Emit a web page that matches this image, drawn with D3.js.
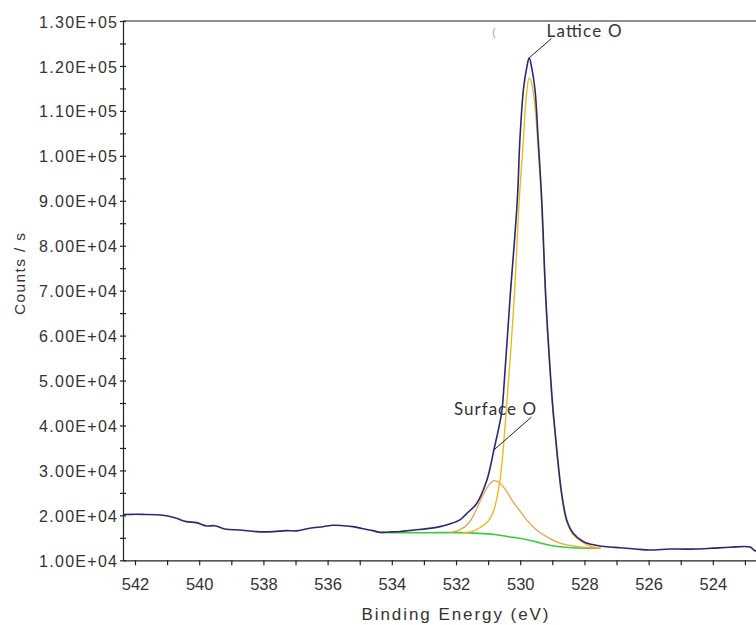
<!DOCTYPE html>
<html>
<head>
<meta charset="utf-8">
<script src="https://cdn.jsdelivr.net/npm/d3@7"></script>
<style>
  html, body { margin: 0; padding: 0; background: #fff; }
  svg { display: block; font-family: "Liberation Sans", Arial, sans-serif; }
</style>
</head>
<body>
<svg id="chart" width="756" height="625"></svg>
<script>
// O 1s XPS region: measured spectrum, two fitted components and the background.
// Each series is [binding energy (eV), counts per second].
const spectrum = [
  [542.37, 20200], [542.05, 20230], [541.70, 20200], [541.34, 20150], [540.97, 19870],
  [540.71, 19350], [540.40, 18600], [540.09, 18380], [539.78, 17640], [539.52, 17700],
  [539.16, 16900], [538.74, 16750], [538.22, 16370], [537.70, 16370], [537.29, 16600],
  [536.98, 16550], [536.56, 17130], [536.14, 17480], [535.83, 17790], [535.52, 17700],
  [535.21, 17500], [534.90, 17040], [534.59, 16600], [534.38, 16230], [534.07, 16300],
  [533.74, 16400], [533.30, 16750], [532.90, 17050], [532.50, 17500], [532.20, 18100],
  [531.88, 19000], [531.67, 20400], [531.36, 22600], [531.04, 27800], [530.82, 34560],
  [530.58, 42800], [530.50, 49420], [530.32, 67970], [530.09, 90240], [530.01, 103600],
  [529.90, 114750], [529.80, 119500], [529.72, 121800], [529.64, 119500], [529.54, 114750],
  [529.44, 103600], [529.33, 90240], [529.20, 67970], [529.04, 49420], [528.97, 42800],
  [528.86, 34560], [528.71, 24920], [528.55, 18975], [528.35, 16010], [528.03, 14140],
  [527.75, 13500], [527.51, 13180], [527.20, 12950], [526.89, 12800], [526.40, 12500],
  [525.96, 12290], [525.33, 12520], [524.90, 12480], [524.50, 12520], [524.00, 12700],
  [523.46, 12900], [522.84, 12960], [522.69, 12140], [522.60, 12150]
];

const latticeO = [
  [531.80, 16150], [531.50, 16400], [531.25, 17300], [531.00, 18700], [530.82, 21200],
  [530.63, 27900], [530.47, 40000], [530.19, 68000], [530.03, 90240], [529.90, 103600],
  [529.82, 112500], [529.72, 117340], [529.64, 116000], [529.54, 111000], [529.44, 101500],
  [529.33, 88600], [529.20, 66900], [529.04, 48600], [528.97, 42100], [528.86, 33900],
  [528.71, 24400], [528.55, 18500], [528.35, 15700], [528.03, 13900], [527.80, 13100],
  [527.50, 12750]
];

const surfaceO = [
  [532.20, 16150], [531.90, 16700], [531.60, 18300], [531.40, 20800], [531.20, 23900],
  [531.00, 26500], [530.84, 27700], [530.65, 27300], [530.45, 25600], [530.25, 23300],
  [530.01, 21000], [529.80, 19000], [529.49, 16750], [529.17, 15200], [528.76, 13800],
  [528.26, 13100], [527.80, 12800], [527.50, 12700]
];

const background = [
  [534.40, 16200], [533.50, 16150], [532.50, 16150], [532.00, 16150], [531.30, 16000],
  [530.80, 15750], [530.55, 15450], [530.20, 15100], [529.93, 14800], [529.60, 14300],
  [529.41, 13900], [529.00, 13250], [528.48, 12850], [527.86, 12700], [527.50, 12700]
];

// Axis ticks and their labels
const xMajorTicks = [542, 540, 538, 536, 534, 532, 530, 528, 526, 524];
const xTickLabels = ["542", "540", "538", "536", "534", "532", "530", "528", "526", "524"];
const xMinorTicks = [541, 539, 537, 535, 533, 531, 529, 527, 525, 523];

const yMajorTicks = [10000, 20000, 30000, 40000, 50000, 60000, 70000, 80000, 90000, 100000, 110000, 120000, 130000];
const yTickLabels = ["1.00E+04", "2.00E+04", "3.00E+04", "4.00E+04", "5.00E+04", "6.00E+04", "7.00E+04",
                     "8.00E+04", "9.00E+04", "1.00E+05", "1.10E+05", "1.20E+05", "1.30E+05"];
const yMinorTicks = [15000, 25000, 35000, 45000, 55000, 65000, 75000, 85000, 95000, 105000, 115000, 125000];

// Peak labels, each pointing at a spot on the measured curve
const peakLabels = [
  { text: "Lattice O", energy: 529.72, counts: 121800 },
  { text: "Surface O", energy: 530.82, counts: 34560 }
];

const svg = d3.select("#chart");
svg.append("rect").attr("width", 756).attr("height", 625).attr("fill", "#fff");

const plotLeft = 123, plotTop = 21, plotBottom = 560.3, plotRight = 756.8;

const x = d3.scaleLinear().domain([542.374, 522.63]).range([plotLeft, plotRight]);
const y = d3.scaleLinear().domain([10000, 130000]).range([plotBottom, plotTop]);

svg.append("defs").append("clipPath").attr("id", "plot-clip")
  .append("rect").attr("x", plotLeft).attr("y", plotTop)
  .attr("width", plotRight - plotLeft).attr("height", plotBottom - plotTop);

// Frame top edge
svg.append("line")
  .attr("x1", plotLeft).attr("x2", 756).attr("y1", plotTop).attr("y2", plotTop)
  .attr("stroke", "#222").attr("stroke-width", 1.2);

// Y axis: ticks cross the axis line
const yAxis = d3.axisLeft(y)
  .tickValues(yMajorTicks.concat(yMinorTicks))
  .tickFormat(d => { const i = yMajorTicks.indexOf(d); return i >= 0 ? yTickLabels[i] : ""; })
  .tickSizeInner(3).tickSizeOuter(0).tickPadding(3);

const gy = svg.append("g").attr("transform", `translate(${plotLeft},0)`).call(yAxis);
gy.attr("font-family", "'Liberation Sans', Arial, sans-serif").attr("font-size", 16).attr("color", "#222");
gy.selectAll(".tick line").attr("x1", 3).attr("stroke-width", 1.2);
gy.select(".domain").attr("stroke-width", 1.2);
gy.selectAll(".tick text").attr("fill", "#333").attr("dy", "0.38em")
  .filter(function () { return this.textContent !== ""; })
  .attr("textLength", 78).attr("lengthAdjust", "spacing");

// X axis: ticks point downward
const xAxis = d3.axisBottom(x)
  .tickValues(xMajorTicks.concat(xMinorTicks))
  .tickFormat(d => { const i = xMajorTicks.indexOf(d); return i >= 0 ? xTickLabels[i] : ""; })
  .tickSizeInner(5).tickSizeOuter(0).tickPadding(13);

const gx = svg.append("g").attr("transform", `translate(0,${plotBottom})`).call(xAxis);
gx.attr("font-family", "'Liberation Sans', Arial, sans-serif").attr("font-size", 16.5).attr("color", "#222");
gx.selectAll(".tick line").attr("stroke-width", 1.2);
gx.select(".domain").attr("stroke-width", 1.2);
gx.selectAll(".tick text").attr("fill", "#333");

// Axis titles
svg.append("text")
  .attr("x", 455).attr("y", 620).attr("text-anchor", "middle")
  .attr("font-size", 17).attr("fill", "#333")
  .attr("textLength", 187).attr("lengthAdjust", "spacing")
  .text("Binding Energy (eV)");

svg.append("text")
  .attr("transform", "translate(25,274) rotate(-90)")
  .attr("text-anchor", "middle")
  .attr("font-size", 15.5).attr("fill", "#333")
  .attr("textLength", 82).attr("lengthAdjust", "spacing")
  .text("Counts / s");

// Curves
const line = d3.line()
  .x(d => x(d[0]))
  .y(d => y(d[1]))
  .curve(d3.curveCatmullRom.alpha(0.5));

const curves = svg.append("g").attr("clip-path", "url(#plot-clip)").attr("fill", "none");

curves.append("path").datum(background)
  .attr("d", line).attr("stroke", "#3acb3a").attr("stroke-width", 1.6);

curves.append("path").datum(surfaceO)
  .attr("d", line).attr("stroke", "#e6a64a").attr("stroke-width", 1.3);

curves.append("path").datum(latticeO)
  .attr("d", line).attr("stroke", "#f0b820").attr("stroke-width", 1.4);

curves.append("path").datum(spectrum)
  .attr("d", line).attr("stroke", "#2b2876").attr("stroke-width", 1.6);

// Peak labels with leader lines
const labelLayout = [
  { tx: 546.5, ty: 37, lx: 551.5, ly: 38.5 },
  { tx: 454, ty: 415, lx: 531.5, ly: 417 }
];

peakLabels.forEach((p, i) => {
  const L = labelLayout[i];
  svg.append("line")
    .attr("x1", L.lx).attr("y1", L.ly)
    .attr("x2", x(p.energy)).attr("y2", y(p.counts))
    .attr("stroke", "#222").attr("stroke-width", 1);
  svg.append("text")
    .attr("x", L.tx).attr("y", L.ty)
    .attr("font-family", "Lato, 'Open Sans', sans-serif")
    .attr("font-size", 17).attr("fill", "#333")
    .attr("textLength", i === 0 ? 75 : 82).attr("lengthAdjust", "spacing")
    .text(p.text);
});

// Small stray mark near the top of the frame
svg.append("text")
  .attr("x", 494).attr("y", 36).attr("text-anchor", "middle")
  .attr("font-size", 10).attr("fill", "#999")
  .text("(");
</script>
</body>
</html>
